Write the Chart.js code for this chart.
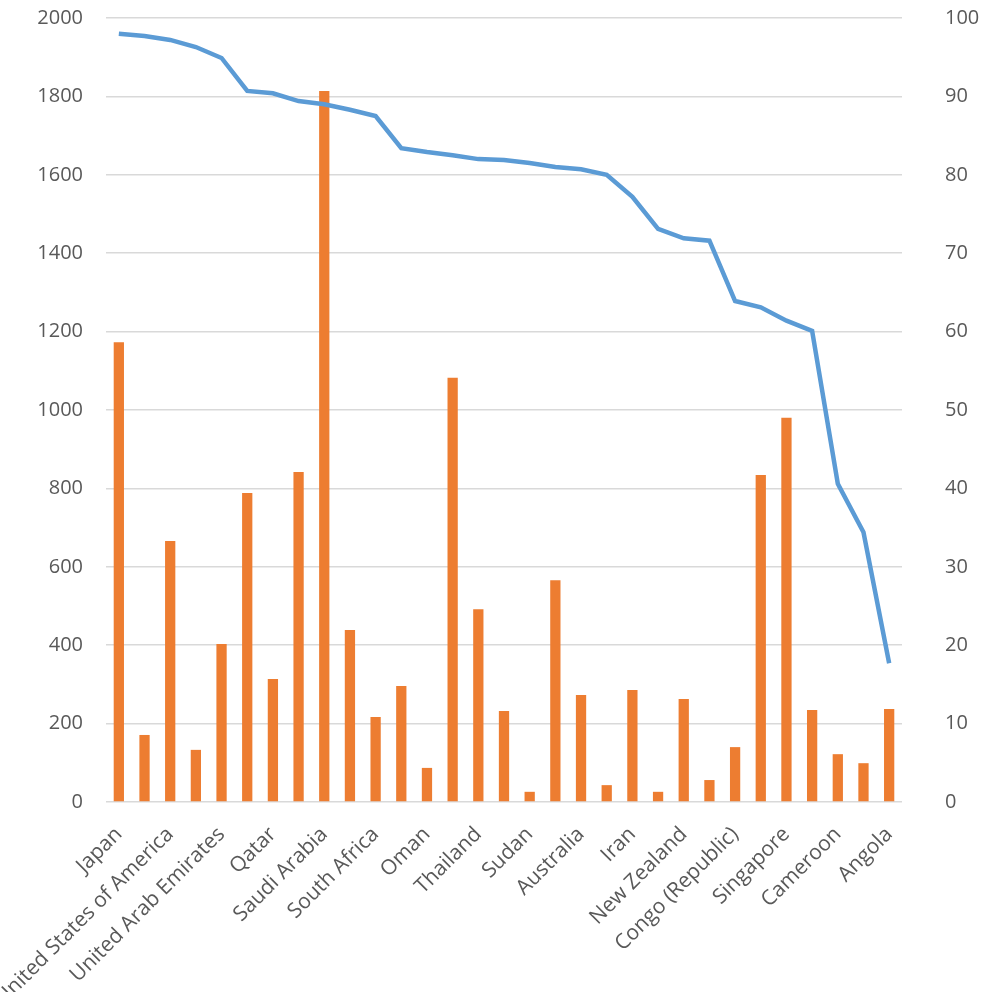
<!DOCTYPE html>
<html>
<head>
<meta charset="utf-8">
<script src="https://cdn.jsdelivr.net/npm/chart.js@4"></script>
<style>
  html, body { margin: 0; padding: 0; background: #fff; }
  #wrap { width: 981px; height: 992px; }
</style>
</head>
<body>
<div id="wrap"><canvas id="chart" width="981" height="992"></canvas></div>
<script>
// categories (only every other name is printed on the axis; the hidden ones are unknown)
const countries = [
    'Japan', '', 'United States of America', '', 'United Arab Emirates', '',
    'Qatar', '', 'Saudi Arabia', '', 'South Africa', '', 'Oman', '',
    'Thailand', '', 'Sudan', '', 'Australia', '', 'Iran', '',
    'New Zealand', '', 'Congo (Republic)', '', 'Singapore', '', 'Cameroon', '',
    'Angola'
];

// bars, left axis
const barValues = [
    1173, 171, 666, 133, 403, 788, 314, 842, 1814, 439, 217,
    296, 87, 1082, 492, 232, 26, 566, 273, 43, 286,
    26, 263, 56, 140, 834, 980, 235, 122, 99, 237
];

// line, right axis
const lineValues = [
    98.0, 97.7, 97.2, 96.3, 94.9, 90.7, 90.4, 89.4, 89.0, 88.3, 87.5,
    83.4, 82.9, 82.5, 82.0, 81.9, 81.5, 81.0, 80.7, 80.0, 77.2,
    73.1, 71.9, 71.6, 63.9, 63.1, 61.4, 60.1, 40.6, 34.4, 17.7
];

const tickFont = { family: "'Open Sans', sans-serif", size: 20 };
const labelFont = { family: "'Open Sans', sans-serif", size: 21 };
const tickColor = '#595959';
const gridColor = '#d9d9d9';

const ctx = document.getElementById('chart').getContext('2d');

new Chart(ctx, {
    type: 'bar',
    data: {
        labels: countries,
        datasets: [
            {
                type: 'line',
                data: lineValues,
                yAxisID: 'y1',
                borderColor: '#5b9bd5',
                borderWidth: 4.5,
                pointRadius: 0,
                tension: 0,
                fill: false,
                order: 0
            },
            {
                type: 'bar',
                data: barValues,
                yAxisID: 'y',
                backgroundColor: '#ed7d31',
                barPercentage: 0.4,
                categoryPercentage: 1,
                order: 1
            }
        ]
    },
    options: {
        responsive: false,
        animation: false,
        layout: { padding: { top: 18, left: 0, right: 0, bottom: 0 } },
        plugins: {
            legend: { display: false },
            tooltip: { enabled: false }
        },
        scales: {
            x: {
                grid: { display: false, drawTicks: false },
                border: { display: false },
                ticks: {
                    color: tickColor,
                    font: labelFont,
                    autoSkip: false,
                    minRotation: 45,
                    maxRotation: 45,
                    padding: 20
                },
                afterFit: function(scale) {
                    scale.height = 190;
                    scale.paddingLeft = 0;
                    scale.paddingRight = 0;
                }
            },
            y: {
                position: 'left',
                min: 0,
                max: 2000,
                grid: { color: gridColor, lineWidth: 1.5, drawTicks: false },
                border: { display: false },
                ticks: {
                    stepSize: 200,
                    color: tickColor,
                    font: tickFont,
                    padding: 23,
                    callback: function(value) { return String(value); }
                },
                afterFit: function(scale) {
                    scale.width = 106;
                    scale.paddingTop = 0;
                    scale.paddingBottom = 0;
                }
            },
            y1: {
                position: 'right',
                min: 0,
                max: 100,
                grid: { display: false, drawTicks: false },
                border: { display: false },
                ticks: {
                    stepSize: 10,
                    color: tickColor,
                    font: tickFont,
                    crossAlign: 'near',
                    padding: 43
                },
                afterFit: function(scale) {
                    scale.width = 79;
                    scale.paddingTop = 0;
                    scale.paddingBottom = 0;
                }
            }
        }
    }
});
</script>
</body>
</html>
